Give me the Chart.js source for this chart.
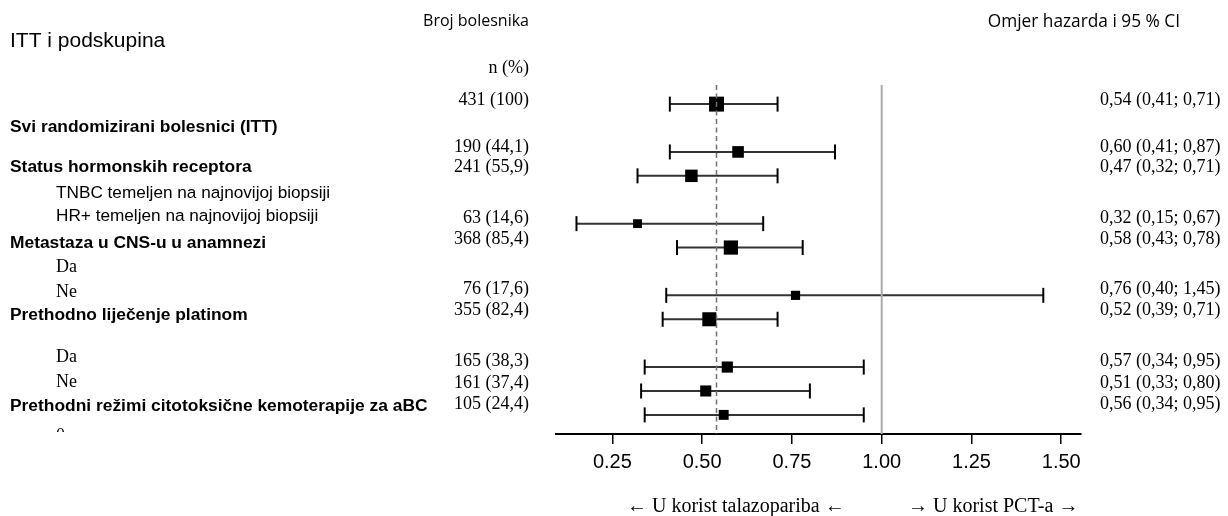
<!DOCTYPE html>
<html>
<head>
<meta charset="utf-8">
<script src="https://cdn.jsdelivr.net/npm/chart.js@4.4.0/dist/chart.umd.min.js"></script>
<style>
  html, body { margin: 0; padding: 0; background: #fff; }
  #wrap { width: 1228px; height: 516px; }
</style>
</head>
<body>
<div id="wrap"><canvas id="forestChart"></canvas></div>
<script>
// plot rows, blocks are separated by one empty row
const groupSizes = [1, 2, 2, 2, 3];
const nPatients = [431, 190, 241, 63, 368, 76, 355, 165, 161, 105];
const nPercent = ["100", "44,1", "55,9", "14,6", "85,4", "17,6", "82,4", "38,3", "37,4", "24,4"];
const hazardRatio = [0.54, 0.60, 0.47, 0.32, 0.58, 0.76, 0.52, 0.57, 0.51, 0.56];
const ciLower = [0.41, 0.41, 0.32, 0.15, 0.43, 0.40, 0.39, 0.34, 0.33, 0.34];
const ciUpper = [0.71, 0.87, 0.71, 0.67, 0.78, 1.45, 0.71, 0.95, 0.80, 0.95];
const xTicks = [0.25, 0.50, 0.75, 1.00, 1.25, 1.50];
const noEffect = 1.0;

const leftLabels = [
    "Svi randomizirani bolesnici (ITT)",
    "Status hormonskih receptora",
    "TNBC temeljen na najnovijoj biopsiji",
    "HR+ temeljen na najnovijoj biopsiji",
    "Metastaza u CNS-u u anamnezi",
    "Da",
    "Ne",
    "Prethodno liječenje platinom",
    "Da",
    "Ne",
    "Prethodni režimi citotoksične kemoterapije za aBC",
    "0"
];
const leftKinds = ["head", "head", "sub", "sub", "head", "serif", "serif", "head", "serif", "serif", "head", "serif"];

// text placement (pixels)
const leftTextY = [127, 167, 193, 216, 243, 267, 292, 315, 357, 382, 406, 436];
const valueTextY = [100, 147, 167, 218, 239, 289, 310, 361, 383, 404];

const SANS = "'Liberation Sans', Arial, sans-serif";
const SERIF = "'Liberation Serif', 'Times New Roman', serif";
const HEAD = "'Open Sans', sans-serif";

const rowIndex = [];
let r = 0;
groupSizes.forEach(size => {
    for (let k = 0; k < size; k++) rowIndex.push(r++);
    r++;
});
const yTop = -0.8;
const yBottom = 13.8;

function fmt(v) {
    return v.toFixed(2).replace(".", ",");
}

const datasets = [];

// reference lines (drawn on top)
datasets.push({
    type: "line",
    data: [{ x: noEffect, y: yTop }, { x: noEffect, y: yBottom }],
    borderColor: "#ababab",
    borderWidth: 2,
    pointRadius: 0,
    order: -2
});
datasets.push({
    type: "line",
    data: [{ x: hazardRatio[0], y: yTop }, { x: hazardRatio[0], y: yBottom }],
    borderColor: "#707070",
    borderWidth: 1.5,
    borderDash: [5, 3.5],
    pointRadius: 0,
    order: -1
});

// hazard ratio squares
datasets.push({
    type: "scatter",
    data: hazardRatio.map((v, i) => ({ x: v, y: rowIndex[i] })),
    pointStyle: "rect",
    backgroundColor: "#000",
    borderWidth: 0,
    pointRadius: ctx => (5 + 0.48 * Math.sqrt(nPatients[ctx.dataIndex])) / Math.SQRT2,
    order: 0
});

// CI caps
datasets.push({
    type: "scatter",
    data: ciLower.map((v, i) => ({ x: v, y: rowIndex[i] }))
        .concat(ciUpper.map((v, i) => ({ x: v, y: rowIndex[i] }))),
    pointStyle: "line",
    rotation: 90,
    pointRadius: 7.5,
    borderColor: "#000",
    borderWidth: 2,
    order: 1
});

// CI lines
hazardRatio.forEach((v, i) => {
    datasets.push({
        type: "line",
        data: [{ x: ciLower[i], y: rowIndex[i] }, { x: ciUpper[i], y: rowIndex[i] }],
        borderColor: "#333",
        borderWidth: 2,
        pointRadius: 0,
        order: 2
    });
});

const textPlugin = {
    id: "forestText",
    afterDraw(chart) {
        const ctx = chart.ctx;
        ctx.save();
        ctx.fillStyle = "#000";
        ctx.textBaseline = "middle";

        ctx.textAlign = "left";
        ctx.font = "21px " + SANS;
        ctx.fillText("ITT i podskupina", 10, 41);

        ctx.textAlign = "right";
        ctx.font = "16px " + HEAD;
        ctx.fillText("Broj bolesnika", 529, 21);
        ctx.font = "17.3px " + HEAD;
        ctx.fillText("Omjer hazarda i 95 % CI", 1180, 22);

        ctx.font = "18px " + SERIF;
        ctx.fillText("n (%)", 529, 68);

        // left labels, the last one is cut by the axis
        leftLabels.forEach((txt, i) => {
            ctx.save();
            if (i === leftLabels.length - 1) {
                ctx.beginPath();
                ctx.rect(0, 0, 540, 432);
                ctx.clip();
            }
            ctx.textAlign = "left";
            let x = 10;
            if (leftKinds[i] === "head") ctx.font = "bold 17.4px " + SANS;
            else if (leftKinds[i] === "sub") { ctx.font = "17.2px " + SANS; x = 56; }
            else { ctx.font = "18px " + SERIF; x = 56; }
            ctx.fillText(txt, x, leftTextY[i]);
            ctx.restore();
        });

        ctx.font = "18px " + SERIF;
        nPatients.forEach((n, i) => {
            ctx.textAlign = "right";
            ctx.fillText(n + " (" + nPercent[i] + ")", 529, valueTextY[i]);
            ctx.textAlign = "left";
            ctx.fillText(fmt(hazardRatio[i]) + " (" + fmt(ciLower[i]) + "; " + fmt(ciUpper[i]) + ")", 1100, valueTextY[i]);
        });

        ctx.font = "20px " + SERIF;
        ctx.textAlign = "left";
        ctx.fillText("\u2190 U korist talazopariba \u2190", 627, 507);
        ctx.fillText("\u2192 U korist PCT-a \u2192", 908, 507);
        ctx.restore();
    }
};

new Chart(document.getElementById("forestChart"), {
    data: { datasets: datasets },
    options: {
        responsive: true,
        maintainAspectRatio: false,
        animation: false,
        events: [],
        layout: { padding: { left: 556, right: 147, top: 85, bottom: 0 } },
        plugins: {
            legend: { display: false },
            tooltip: { enabled: false }
        },
        scales: {
            x: {
                type: "linear",
                min: 0.093,
                max: 1.555,
                afterBuildTicks: scale => {
                    scale.ticks = xTicks.map(v => ({ value: v }));
                },
                afterFit: scale => {
                    scale.height = 82;
                },
                grid: {
                    drawOnChartArea: false,
                    drawTicks: true,
                    tickLength: 10,
                    color: "#000",
                    lineWidth: 1.5
                },
                border: { display: true, color: "#000", width: 2 },
                ticks: {
                    padding: 6,
                    color: "#000",
                    font: { family: SANS, size: 20 },
                    callback: v => Number(v).toFixed(2)
                }
            },
            y: {
                type: "linear",
                display: false,
                reverse: true,
                min: yTop,
                max: yBottom
            }
        }
    },
    plugins: [textPlugin]
});
</script>
</body>
</html>
